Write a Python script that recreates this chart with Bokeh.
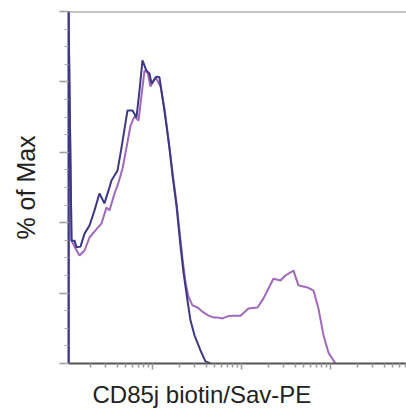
import math
from bokeh.plotting import figure
from bokeh.models import Range1d, FixedTicker, Span, Title, CustomJSTickFormatter
from bokeh.embed import file_html
from bokeh.resources import INLINE

# x values: log10 of CD85j biotin/Sav-PE intensity ; y values: % of Max
blue_log = [1.056, 1.056, 1.090, 1.123, 1.146, 1.191, 1.236, 1.292, 1.348, 1.404, 1.460, 1.505,
            1.539, 1.573, 1.607, 1.652, 1.719, 1.775, 1.820, 1.854, 1.887, 1.932, 1.966, 1.989,
            2.045, 2.078, 2.112, 2.157, 2.191, 2.225, 2.269, 2.314, 2.348, 2.393, 2.427, 2.472,
            2.539, 2.595, 2.652]
blue_pct = [0, 100, 34.9, 34.9, 33.0, 33.2, 36.9, 39.2, 43.5, 48.3, 45.5, 49.1,
            52.0, 53.4, 54.8, 61.4, 71.9, 71.9, 69.9, 77.6, 86.1, 83.2, 82.4, 79.5,
            81.5, 81.3, 75.6, 67.6, 61.1, 53.4, 44.9, 33.5, 25.9, 17.9, 12.2, 8.0,
            3.7, 0.6, 0]

purple_log = [1.056, 1.056, 1.090, 1.123, 1.180, 1.236, 1.292, 1.359, 1.427, 1.483, 1.517, 1.573,
              1.618, 1.663, 1.708, 1.753, 1.798, 1.843, 1.876, 1.910, 1.944, 1.977, 2.034, 2.090,
              2.135, 2.180, 2.225, 2.269, 2.303, 2.337, 2.371, 2.404, 2.449, 2.505, 2.573, 2.629,
              2.685, 2.730, 2.786, 2.843, 2.910, 2.989, 3.078, 3.180, 3.247, 3.303, 3.359, 3.438,
              3.494, 3.584, 3.640, 3.741, 3.809, 3.865, 3.921, 3.977, 4.056]
purple_pct = [0, 100, 34.9, 33.2, 30.7, 32.1, 35.8, 37.8, 39.8, 44.3, 43.5, 48.3,
              51.4, 55.4, 61.4, 67.6, 70.2, 69.0, 76.1, 83.2, 82.7, 78.7, 81.3, 78.7,
              72.4, 63.4, 54.3, 45.7, 37.8, 29.8, 23.0, 19.0, 16.5, 15.9, 14.5, 13.6,
              13.1, 13.1, 12.8, 13.4, 13.6, 13.6, 15.6, 15.9, 18.5, 21.3, 24.1, 23.6,
              25.0, 26.4, 22.2, 21.6, 20.7, 15.6, 8.0, 3.1, 0]

x_decades = [1, 2, 3, 4]
y_major = [0, 20, 40, 60, 80, 100]
x_title = "CD85j biotin/Sav-PE"
y_title = "% of Max"

BLUE = "#3d3884"
PURPLE = "#a068bb"
FONT = "Liberation Sans"

p = figure(width=406, height=416, output_backend="svg", toolbar_location=None,
           x_range=Range1d(1.056, 4.854), y_range=Range1d(0, 100),
           min_border_left=68, min_border_right=0, min_border_top=11, min_border_bottom=53)
p.outline_line_color = None
p.grid.visible = False
p.background_fill_color = "white"
p.border_fill_color = "white"

blank = CustomJSTickFormatter(code="return ''")

minor_x = [d + math.log10(k) for d in range(0, 5) for k in range(2, 10)]
xa = p.xaxis[0]
xa.ticker = FixedTicker(ticks=x_decades, minor_ticks=minor_x)
xa.formatter = blank
xa.major_label_standoff = 0
xa.axis_line_color = "#555555"
xa.axis_line_width = 2
xa.major_tick_line_color = "#999999"
xa.minor_tick_line_color = "#999999"
xa.major_tick_line_width = 1.5
xa.minor_tick_line_width = 1.5
xa.major_tick_out = 6
xa.major_tick_in = 0
xa.minor_tick_out = 4
xa.minor_tick_in = 0

ya = p.yaxis[0]
ya.ticker = FixedTicker(ticks=y_major, minor_ticks=[v for v in range(0, 101, 5)])
ya.formatter = blank
ya.major_label_standoff = 0
ya.axis_line_color = BLUE
ya.axis_line_width = 2
ya.major_tick_line_color = "#999999"
ya.minor_tick_line_color = "#aaaaaa"
ya.major_tick_line_width = 1.5
ya.major_tick_out = 9
ya.major_tick_in = 0
ya.minor_tick_out = 4
ya.minor_tick_in = 0
ya.axis_label = y_title
ya.axis_label_text_font = FONT
ya.axis_label_text_font_size = "25px"
ya.axis_label_text_font_style = "normal"
ya.axis_label_text_color = "#222222"
ya.axis_label_standoff = 20

p.add_layout(Span(location=100, dimension="width", line_color="#8a8a8a", line_width=2))

p.line(purple_log, purple_pct, line_color=PURPLE, line_width=2)
p.line(blue_log, blue_pct, line_color=BLUE, line_width=2)

p.add_layout(Title(text=x_title, align="left", offset=24, standoff=18,
                   text_font=FONT, text_font_size="24px", text_font_style="normal",
                   text_color="#222222"), "below")

open("out.html", "w").write(file_html(p, INLINE))
